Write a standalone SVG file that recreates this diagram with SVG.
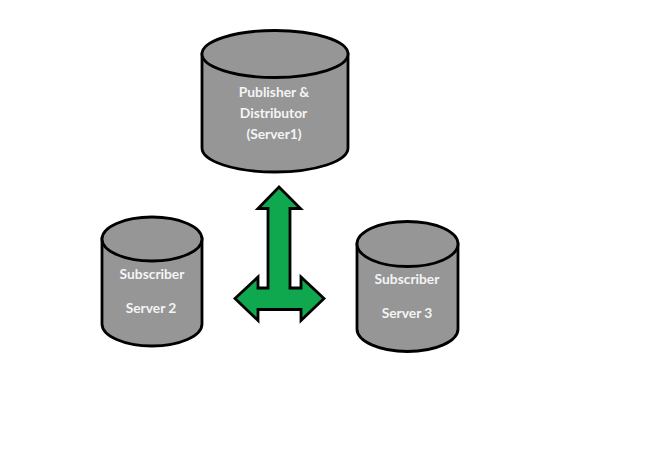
<svg xmlns="http://www.w3.org/2000/svg" width="658" height="454" viewBox="0 0 658 454">
<style>
.c{fill:#969696;stroke:#000;stroke-width:2.8}
text{font-family:"Lato","Liberation Sans",sans-serif;font-weight:700;font-size:13.800px;fill:#f4f4f4;text-anchor:middle}
</style>
<rect width="658" height="454" fill="#fff"/>
<g id="connectors">
<path d="M279 187L300.500 208.500H290V288H301V277L324 298.500L301 320.500V309.500H258V320.500L235 298.500L258 277V288H268V208.500H258Z" fill="#0fa84e" stroke="#000" stroke-width="2.800" stroke-linejoin="miter"/>
</g>
<g id="publisher">
<path class="c" d="M202 54V148A73 24 0 0 0 348 148V54Z"/>
<ellipse class="c" cx="275" cy="54" rx="73" ry="23.500"/>
<text x="274" y="96.500">Publisher &amp;</text>
<text x="273.500" y="117.500">Distributor</text>
<text x="274" y="138.500">(Server1)</text>
</g>
<g id="subscriber2">
<path class="c" d="M102 239V324A50 22 0 0 0 202 324V239Z"/>
<ellipse class="c" cx="152" cy="239" rx="50" ry="22"/>
<text x="152" y="279">Subscriber</text>
<text x="151" y="313">Server 2</text>
</g>
<g id="subscriber3">
<path class="c" d="M357 244V329A50.500 22.500 0 0 0 458 329V244Z"/>
<ellipse class="c" cx="407.500" cy="244" rx="50.500" ry="22.500"/>
<text x="407" y="284">Subscriber</text>
<text x="407" y="318">Server 3</text>
</g>
</svg>
